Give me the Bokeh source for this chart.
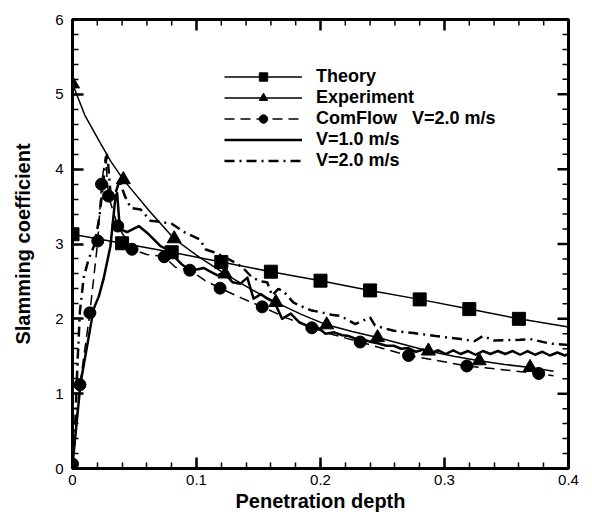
from bokeh.plotting import figure
from bokeh.models import Range1d, SingleIntervalTicker, Legend, LegendItem, NumeralTickFormatter
from bokeh.embed import file_html
from bokeh.resources import INLINE

# ---------------- data ----------------
theory_x = [0.0, 0.04, 0.08, 0.12, 0.16, 0.20, 0.24, 0.28, 0.32, 0.36, 0.40]
theory_y = [3.13, 3.01, 2.89, 2.76, 2.63, 2.51, 2.38, 2.26, 2.13, 2.00, 1.89]
theory_sym_x = [0.0, 0.04, 0.08, 0.12, 0.16, 0.20, 0.24, 0.28, 0.32, 0.36]
theory_sym_y = [3.13, 3.01, 2.89, 2.76, 2.63, 2.51, 2.38, 2.26, 2.13, 2.00]

exp_x = [0.0, 0.010, 0.021, 0.031, 0.041, 0.062, 0.082, 0.1025, 0.123, 0.1435,
         0.164, 0.1845, 0.205, 0.2255, 0.246, 0.2665, 0.287, 0.3075, 0.328, 0.3485, 0.369, 0.388]
exp_y = [5.14, 4.72, 4.39, 4.10, 3.86, 3.44, 3.07, 2.82, 2.60, 2.40,
         2.22, 2.06, 1.92, 1.83, 1.75, 1.66, 1.57, 1.50, 1.44, 1.39, 1.35, 1.30]
exp_sym_x = [0.0, 0.041, 0.082, 0.123, 0.164, 0.205, 0.246, 0.287, 0.328, 0.369]
exp_sym_y = [5.14, 3.86, 3.07, 2.60, 2.22, 1.92, 1.75, 1.57, 1.44, 1.35]

comflow_x = [0.0, 0.006, 0.014, 0.0204, 0.0234, 0.0266, 0.029, 0.0365, 0.048, 0.060,
             0.074, 0.083, 0.0946, 0.107, 0.119, 0.136, 0.153, 0.173, 0.193, 0.212,
             0.232, 0.251, 0.271, 0.295, 0.318, 0.347, 0.376, 0.388]
comflow_y = [0.06, 1.12, 2.08, 3.04, 3.80, 4.17, 3.64, 3.24, 2.93, 2.86,
             2.83, 2.69, 2.65, 2.51, 2.41, 2.28, 2.16, 2.01, 1.88, 1.78,
             1.69, 1.60, 1.51, 1.44, 1.37, 1.32, 1.27, 1.24]
comflow_sym_x = [0.0, 0.006, 0.014, 0.0204, 0.0234, 0.029, 0.0365, 0.048, 0.074, 0.0946,
                 0.119, 0.153, 0.193, 0.232, 0.271, 0.318, 0.376]
comflow_sym_y = [0.06, 1.12, 2.08, 3.04, 3.80, 3.64, 3.24, 2.93, 2.83, 2.65,
                 2.41, 2.16, 1.88, 1.69, 1.51, 1.37, 1.27]

v1_x = [0.0, 0.0065, 0.017, 0.0212, 0.025, 0.0306, 0.0347, 0.036, 0.0382, 0.044,
        0.0535, 0.0615, 0.071, 0.076, 0.082, 0.088, 0.094, 0.100, 0.106, 0.110,
        0.117, 0.122, 0.129, 0.1355, 0.141, 0.146, 0.152, 0.157, 0.163, 0.169,
        0.176, 0.1825, 0.189, 0.194, 0.199, 0.204, 0.211, 0.2175, 0.223, 0.229,
        0.235, 0.241, 0.247, 0.253, 0.259, 0.265, 0.271, 0.277, 0.283, 0.289,
        0.295, 0.301, 0.307, 0.313, 0.319, 0.325, 0.331, 0.337, 0.343, 0.349,
        0.355, 0.361, 0.367, 0.373, 0.379, 0.385, 0.391, 0.397, 0.400]
v1_y = [0.05, 1.14, 2.13, 2.30, 2.53, 2.97, 3.64, 3.68, 3.20, 3.16,
        3.24, 3.13, 2.97, 2.93, 2.83, 2.73, 2.66, 2.66, 2.68, 2.64,
        2.58, 2.62, 2.49, 2.47, 2.55, 2.27, 2.33, 2.27, 2.22, 2.00,
        2.07, 1.96, 1.91, 1.92, 1.87, 1.80, 1.82, 1.78, 1.77, 1.73,
        1.72, 1.69, 1.67, 1.64, 1.64, 1.60, 1.61, 1.56, 1.59, 1.54,
        1.58, 1.53, 1.58, 1.53, 1.57, 1.52, 1.57, 1.53, 1.57, 1.53,
        1.57, 1.52, 1.57, 1.52, 1.56, 1.51, 1.55, 1.51, 1.53]

v2_x = [0.0, 0.002, 0.004, 0.006, 0.009, 0.013, 0.018, 0.022, 0.026, 0.028,
        0.031, 0.035, 0.038, 0.042, 0.047, 0.055, 0.063, 0.073, 0.080, 0.091,
        0.103, 0.107, 0.114, 0.121, 0.130, 0.137, 0.145, 0.152, 0.157, 0.161,
        0.166, 0.170, 0.178, 0.184, 0.193, 0.200, 0.210, 0.216, 0.228, 0.240,
        0.244, 0.259, 0.275, 0.293, 0.313, 0.324, 0.331, 0.340, 0.361, 0.369,
        0.385, 0.400]
v2_y = [0.0, 0.50, 1.40, 2.10, 2.55, 2.80, 3.00, 3.40, 4.00, 4.22,
        3.60, 3.70, 3.85, 3.65, 3.48, 3.46, 3.31, 3.29, 3.27, 3.15,
        3.06, 2.93, 2.89, 2.84, 2.76, 2.69, 2.55, 2.50, 2.49, 2.31,
        2.40, 2.37, 2.22, 2.17, 2.11, 2.09, 2.05, 2.04, 1.93, 2.02,
        1.91, 1.84, 1.81, 1.77, 1.73, 1.70, 1.77, 1.71, 1.72, 1.73,
        1.67, 1.65]

x_tick_step = 0.1
y_tick_step = 1

FONT = "Liberation Sans"

# ---------------- figure ----------------
W, H = 592, 514
BL, BR, BT, BB = 72, 24, 19, 43
X0, X1, Y0, Y1 = 0.0, 0.4, 0.0, 6.0
p = figure(width=W, height=H, output_backend="svg", toolbar_location=None,
           x_range=Range1d(X0, X1), y_range=Range1d(Y0, Y1),
           min_border_left=BL, min_border_right=BR, min_border_top=BT, min_border_bottom=BB)
p.xgrid.visible = False
p.ygrid.visible = False
p.outline_line_color = "black"
p.outline_line_width = 3

for ax, step, fmt in ((p.xaxis[0], x_tick_step, "0.[0]"), (p.yaxis[0], y_tick_step, "0")):
    ax.ticker = SingleIntervalTicker(interval=step, num_minor_ticks=5)
    ax.formatter = NumeralTickFormatter(format=fmt)
    ax.axis_line_width = 3
    ax.axis_line_color = "black"
    ax.major_tick_in = 11
    ax.major_tick_out = 0
    ax.minor_tick_in = 6
    ax.minor_tick_out = 0
    ax.major_tick_line_width = 2.5
    ax.minor_tick_line_width = 1.5
    ax.major_tick_line_color = "black"
    ax.minor_tick_line_color = "black"
    ax.major_label_text_font = FONT
    ax.major_label_text_font_size = "15px"
    ax.major_label_text_color = "black"
    ax.axis_label_text_font = FONT
    ax.axis_label_text_font_size = "20px"
    ax.axis_label_text_font_style = "bold"
    ax.axis_label_text_color = "black"

p.xaxis[0].axis_label = "Penetration depth"
p.xaxis[0].major_label_standoff = 6
p.xaxis[0].axis_label_standoff = 2
p.yaxis[0].axis_label = "Slamming coefficient"
p.yaxis[0].major_label_standoff = 9
p.yaxis[0].axis_label_standoff = 18

# mirrored inward ticks on the top and right edges
fw = W - BL - BR
fh = H - BT - BB
px = (X1 - X0) / fw
py = (Y1 - Y0) / fh
nx = int(round((X1 - X0) / x_tick_step)) * 5
ny = int(round((Y1 - Y0) / y_tick_step)) * 5
xt_all = [X0 + i * x_tick_step / 5 for i in range(nx + 1)]
yt_all = [Y0 + i * y_tick_step / 5 for i in range(ny + 1)]
for major in (True, False):
    L = 11 if major else 6
    lw = 2.5 if major else 1.5
    xs, ys = [], []
    for i, t in enumerate(xt_all):
        if (i % 5 == 0) == major:
            xs.append([t, t])
            ys.append([Y1, Y1 - L * py])
    for i, t in enumerate(yt_all):
        if (i % 5 == 0) == major:
            xs.append([X1, X1 - L * px])
            ys.append([t, t])
    p.multi_line(xs, ys, line_color="black", line_width=lw)

# ---------------- series ----------------
r_th_l = p.line(theory_x, theory_y, line_color="black", line_width=1.5)
r_th_s = p.scatter(theory_sym_x, theory_sym_y, marker="square", size=13,
                   fill_color="black", line_color="black")

r_ex_l = p.line(exp_x, exp_y, line_color="black", line_width=1.5)
r_ex_s = p.scatter(exp_sym_x, exp_sym_y, marker="triangle", size=14,
                   fill_color="black", line_color="black")

r_cf_l = p.line(comflow_x, comflow_y, line_color="black", line_width=1.5,
                line_dash="10 6")
r_cf_s = p.scatter(comflow_sym_x, comflow_sym_y, marker="circle", size=12,
                   fill_color="black", line_color="black")

r_v1 = p.line(v1_x, v1_y, line_color="black", line_width=2.5, line_join="round")
r_v2 = p.line(v2_x, v2_y, line_color="black", line_width=2.5,
              line_dash="10 5 2 5")

legend = Legend(items=[
    LegendItem(label="Theory", renderers=[r_th_l, r_th_s]),
    LegendItem(label="Experiment", renderers=[r_ex_l, r_ex_s]),
    LegendItem(label="ComFlow\u00a0\u00a0\u00a0V=2.0 m/s", renderers=[r_cf_l, r_cf_s]),
    LegendItem(label="V=1.0 m/s", renderers=[r_v1]),
    LegendItem(label="V=2.0 m/s", renderers=[r_v2]),
], location=(152, 297))
legend.border_line_color = None
legend.background_fill_alpha = 0
legend.padding = 0
legend.margin = 0
legend.spacing = 0
legend.glyph_width = 78
legend.glyph_height = 21
legend.label_height = 21
legend.label_standoff = 14
legend.label_text_font = FONT
legend.label_text_font_size = "18px"
legend.label_text_font_style = "bold"
legend.label_text_color = "black"
p.add_layout(legend)

open("out.html", "w").write(file_html(p, INLINE))
